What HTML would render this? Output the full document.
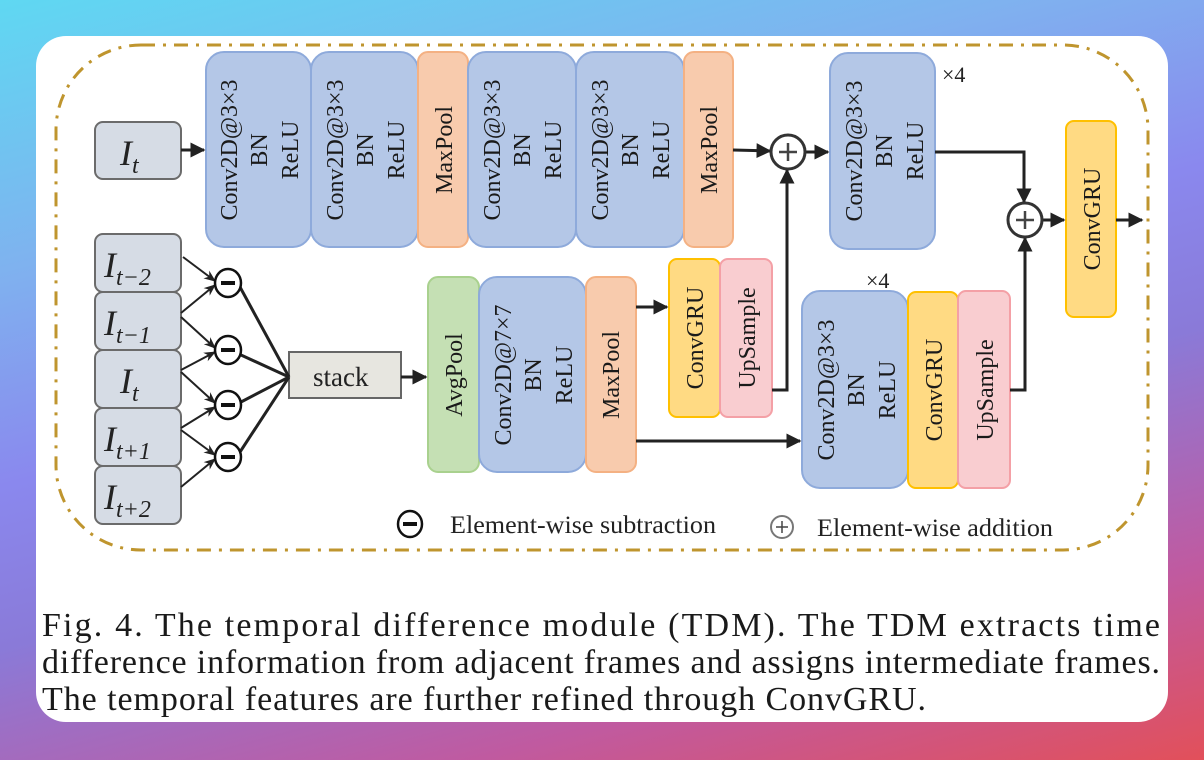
<!DOCTYPE html>
<html><head><meta charset="utf-8"><style>
html,body{margin:0;padding:0;}
body{width:1204px;height:760px;overflow:hidden;background:linear-gradient(165deg,#5fd8f2 0%,#7fb2ef 25%,#8a88ee 45%,#8a7ad8 60%,#c05aa0 82%,#e2505a 100%);position:relative;font-family:"Liberation Serif",serif;}
.card{position:absolute;left:36px;top:36px;width:1132px;height:686px;background:#fff;border-radius:30px;}
svg{position:absolute;left:0;top:0;}
</style></head><body>
<div class="card"></div>
<svg width="1204" height="760" viewBox="0 0 1204 760" font-family="Liberation Serif, serif">
<defs>
<marker id="a" viewBox="0 0 10 10" refX="9" refY="5" markerWidth="5" markerHeight="5" orient="auto"><path d="M0,0L10,5L0,10z" fill="#222"/></marker>
<marker id="s" viewBox="0 0 10 10" refX="9" refY="5" markerWidth="6" markerHeight="6" orient="auto"><path d="M0,1L10,5L0,9L3,5z" fill="#222"/></marker>
</defs>
<rect x="56" y="45" width="1092" height="505" rx="85" fill="none" stroke="#bf952e" stroke-width="3" stroke-dasharray="14,8,3,8"/>

<g stroke-width="2">
<rect x="95" y="122" width="86" height="57" rx="8" fill="#d6dce5" stroke="#6b6b6b"/>
<rect x="206" y="52" width="105" height="195" rx="18" fill="#b4c7e7" stroke="#8eaadb"/>
<rect x="311" y="52" width="107" height="195" rx="18" fill="#b4c7e7" stroke="#8eaadb"/>
<rect x="418" y="52" width="50" height="195" rx="10" fill="#f8cbad" stroke="#f4b183"/>
<rect x="468" y="52" width="108" height="195" rx="18" fill="#b4c7e7" stroke="#8eaadb"/>
<rect x="576" y="52" width="108" height="195" rx="18" fill="#b4c7e7" stroke="#8eaadb"/>
<rect x="684" y="52" width="49" height="195" rx="10" fill="#f8cbad" stroke="#f4b183"/>
<rect x="830" y="53" width="105" height="196" rx="18" fill="#b4c7e7" stroke="#8eaadb"/>
<rect x="1066" y="121" width="50" height="196" rx="8" fill="#ffda83" stroke="#ffc000"/>
<rect x="95" y="234" width="86" height="58" rx="8" fill="#d6dce5" stroke="#6b6b6b"/>
<rect x="95" y="292" width="86" height="58" rx="8" fill="#d6dce5" stroke="#6b6b6b"/>
<rect x="95" y="350" width="86" height="58" rx="8" fill="#d6dce5" stroke="#6b6b6b"/>
<rect x="95" y="408" width="86" height="58" rx="8" fill="#d6dce5" stroke="#6b6b6b"/>
<rect x="95" y="466" width="86" height="58" rx="8" fill="#d6dce5" stroke="#6b6b6b"/>
<rect x="289" y="352" width="112" height="46" fill="#e7e6e0" stroke="#666"/>
<rect x="428" y="277" width="51" height="195" rx="10" fill="#c5e0b4" stroke="#a9d18e"/>
<rect x="479" y="277" width="107" height="195" rx="18" fill="#b4c7e7" stroke="#8eaadb"/>
<rect x="586" y="277" width="50" height="195" rx="10" fill="#f8cbad" stroke="#f4b183"/>
<rect x="669" y="259" width="51" height="158" rx="8" fill="#ffda83" stroke="#ffc000"/>
<rect x="720" y="259" width="52" height="158" rx="8" fill="#f9cdd0" stroke="#f4a0a6"/>
<rect x="802" y="291" width="106" height="197" rx="18" fill="#b4c7e7" stroke="#8eaadb"/>
<rect x="908" y="292" width="50" height="196" rx="8" fill="#ffda83" stroke="#ffc000"/>
<rect x="958" y="291" width="52" height="197" rx="8" fill="#f9cdd0" stroke="#f4a0a6"/>
</g>

<g stroke="#222" stroke-width="3" fill="none">
<line x1="181" y1="150" x2="204" y2="150" marker-end="url(#a)"/>
<line x1="733" y1="150" x2="770" y2="151" marker-end="url(#a)"/>
<line x1="805" y1="152" x2="828" y2="152" marker-end="url(#a)"/>
<polyline points="772,390 787,390 787,170" marker-end="url(#a)"/>
<polyline points="935,152 1024,152 1024,202" marker-end="url(#a)"/>
<polyline points="1010,390 1025,390 1025,238" marker-end="url(#a)"/>
<line x1="1041" y1="220" x2="1064" y2="220" marker-end="url(#a)"/>
<line x1="1116" y1="220" x2="1142" y2="220" marker-end="url(#a)"/>
<line x1="636" y1="307" x2="667" y2="307" marker-end="url(#a)"/>
<line x1="636" y1="441" x2="800" y2="441" marker-end="url(#a)"/>
<line x1="401" y1="377" x2="426" y2="377" marker-end="url(#a)"/>
</g>
<g stroke="#222" stroke-width="2" fill="none">
<line x1="183" y1="257" x2="215" y2="281" marker-end="url(#s)"/>
<line x1="181" y1="313" x2="215" y2="285" marker-end="url(#s)"/>
<line x1="181" y1="317" x2="215" y2="348" marker-end="url(#s)"/>
<line x1="181" y1="370" x2="215" y2="352" marker-end="url(#s)"/>
<line x1="181" y1="372" x2="215" y2="403" marker-end="url(#s)"/>
<line x1="181" y1="428" x2="215" y2="407" marker-end="url(#s)"/>
<line x1="181" y1="430" x2="215" y2="455" marker-end="url(#s)"/>
<line x1="181" y1="487" x2="215" y2="459" marker-end="url(#s)"/>
</g>
<g stroke="#222" stroke-width="3" fill="none">
<line x1="240" y1="287" x2="289" y2="377"/>
<line x1="241" y1="355" x2="289" y2="377"/>
<line x1="241" y1="402" x2="289" y2="377"/>
<line x1="240" y1="452" x2="289" y2="377"/>
</g>
<g fill="#fff" stroke="#111" stroke-width="2.5">
<ellipse cx="228" cy="283" rx="13" ry="14"/><ellipse cx="228" cy="350" rx="13" ry="14"/>
<ellipse cx="228" cy="405" rx="13" ry="14"/><ellipse cx="228" cy="457" rx="13" ry="14"/>
<ellipse cx="410" cy="524" rx="12" ry="13"/>
</g>
<g stroke="#111" stroke-width="4">
<line x1="221" y1="283" x2="235" y2="283"/><line x1="221" y1="350" x2="235" y2="350"/>
<line x1="221" y1="405" x2="235" y2="405"/><line x1="221" y1="457" x2="235" y2="457"/>
<line x1="403" y1="524" x2="417" y2="524"/>
</g>
<g fill="#fff" stroke="#333" stroke-width="3">
<circle cx="788" cy="152" r="17"/><circle cx="1025" cy="220" r="17"/>
<circle cx="782" cy="527" r="11" stroke-width="2" stroke="#777"/>
</g>
<g stroke="#444" stroke-width="2.5">
<line x1="779" y1="152" x2="797" y2="152"/><line x1="788" y1="143" x2="788" y2="161"/>
<line x1="1016" y1="220" x2="1034" y2="220"/><line x1="1025" y1="211" x2="1025" y2="229"/>
<line x1="776" y1="527" x2="788" y2="527" stroke-width="1.5"/><line x1="782" y1="521" x2="782" y2="533" stroke-width="1.5"/>
</g>

<g font-size="24" fill="#1a1a1a" text-anchor="middle">
<g transform="translate(237,150) rotate(-90)"><text>Conv2D@3×3</text></g>
<g transform="translate(267,150) rotate(-90)"><text>BN</text></g>
<g transform="translate(298,150) rotate(-90)"><text>ReLU</text></g>
<g transform="translate(343,150) rotate(-90)"><text>Conv2D@3×3</text></g>
<g transform="translate(373,150) rotate(-90)"><text>BN</text></g>
<g transform="translate(404,150) rotate(-90)"><text>ReLU</text></g>
<g transform="translate(452,150) rotate(-90)"><text>MaxPool</text></g>
<g transform="translate(500,150) rotate(-90)"><text>Conv2D@3×3</text></g>
<g transform="translate(530,150) rotate(-90)"><text>BN</text></g>
<g transform="translate(561,150) rotate(-90)"><text>ReLU</text></g>
<g transform="translate(608,150) rotate(-90)"><text>Conv2D@3×3</text></g>
<g transform="translate(638,150) rotate(-90)"><text>BN</text></g>
<g transform="translate(669,150) rotate(-90)"><text>ReLU</text></g>
<g transform="translate(717,150) rotate(-90)"><text>MaxPool</text></g>
<g transform="translate(862,151) rotate(-90)"><text>Conv2D@3×3</text></g>
<g transform="translate(892,151) rotate(-90)"><text>BN</text></g>
<g transform="translate(923,151) rotate(-90)"><text>ReLU</text></g>
<g transform="translate(1100,219) rotate(-90)"><text>ConvGRU</text></g>
<g transform="translate(462,375) rotate(-90)"><text>AvgPool</text></g>
<g transform="translate(511,375) rotate(-90)"><text>Conv2D@7×7</text></g>
<g transform="translate(541,375) rotate(-90)"><text>BN</text></g>
<g transform="translate(572,375) rotate(-90)"><text>ReLU</text></g>
<g transform="translate(619,375) rotate(-90)"><text>MaxPool</text></g>
<g transform="translate(703,338) rotate(-90)"><text>ConvGRU</text></g>
<g transform="translate(755,338) rotate(-90)"><text>UpSample</text></g>
<g transform="translate(834,390) rotate(-90)"><text>Conv2D@3×3</text></g>
<g transform="translate(864,390) rotate(-90)"><text>BN</text></g>
<g transform="translate(895,390) rotate(-90)"><text>ReLU</text></g>
<g transform="translate(942,390) rotate(-90)"><text>ConvGRU</text></g>
<g transform="translate(993,390) rotate(-90)"><text>UpSample</text></g>
</g>
<g font-size="22" fill="#222">
<text x="942" y="82">×4</text>
<text x="866" y="288">×4</text>
<text x="313" y="386" font-size="27">stack</text>
<text x="450" y="533" font-size="25" textLength="266" lengthAdjust="spacingAndGlyphs">Element-wise subtraction</text>
<text x="817" y="536" font-size="25" textLength="236" lengthAdjust="spacingAndGlyphs">Element-wise addition</text>
</g>
<g font-size="36" font-style="italic" fill="#222">
<text x="120" y="165">I<tspan font-size="24" dy="8">t</tspan></text>
<text x="104" y="277">I<tspan font-size="24" dy="8">t−2</tspan></text>
<text x="104" y="335">I<tspan font-size="24" dy="8">t−1</tspan></text>
<text x="120" y="393">I<tspan font-size="24" dy="8">t</tspan></text>
<text x="104" y="451">I<tspan font-size="24" dy="8">t+1</tspan></text>
<text x="104" y="509">I<tspan font-size="24" dy="8">t+2</tspan></text>
</g>
<g font-size="34" fill="#1a1a1a">
<text x="42" y="636" textLength="1118" lengthAdjust="spacing">Fig. 4.  The temporal difference module (TDM). The TDM extracts time</text>
<text x="42" y="673" textLength="1118" lengthAdjust="spacing">difference information from adjacent frames and assigns intermediate frames.</text>
<text x="42" y="710" textLength="884" lengthAdjust="spacing">The temporal features are further refined through ConvGRU.</text>
</g>
</svg>
</body></html>
